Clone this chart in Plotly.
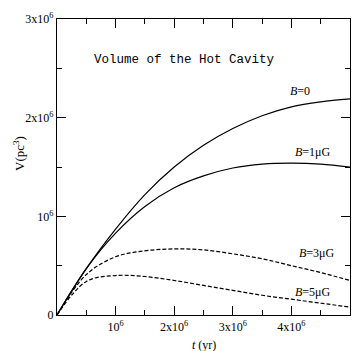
import plotly.graph_objects as go

# time in units of 10^6 yr, volume in units of 10^6 pc^3
t = [0, 0.5, 1.0, 1.5, 2.0, 2.5, 3.0, 3.5, 4.0, 4.5, 5.0]
V_B0 = [0, 0.47, 0.87, 1.22, 1.50, 1.72, 1.89, 2.02, 2.11, 2.16, 2.19]
V_B1 = [0, 0.47, 0.83, 1.10, 1.29, 1.41, 1.49, 1.53, 1.54, 1.53, 1.50]
V_B3 = [0, 0.41, 0.59, 0.65, 0.67, 0.66, 0.62, 0.57, 0.50, 0.43, 0.35]
V_B5 = [0, 0.34, 0.40, 0.39, 0.35, 0.30, 0.25, 0.20, 0.16, 0.12, 0.08]

series = [
    ("<i>B</i>=0", V_B0, "solid"),
    ("<i>B</i>=1μG", V_B1, "solid"),
    ("<i>B</i>=3μG", V_B3, "4px,2px"),
    ("<i>B</i>=5μG", V_B5, "4px,2px"),
]

x_tickvals = [1, 2, 3, 4]
x_ticktext = ["10<sup>6</sup>", "2x10<sup>6</sup>", "3x10<sup>6</sup>", "4x10<sup>6</sup>"]
y_tickvals = [0, 1, 2, 3]
y_ticktext = ["0", "10<sup>6</sup>", "2x10<sup>6</sup>", "3x10<sup>6</sup>"]

scale = 1e6
fig = go.Figure()
for name, v, dash in series:
    fig.add_trace(go.Scatter(
        x=[a * scale for a in t], y=[b * scale for b in v], mode="lines",
        line=dict(color="black", width=1.2, dash=dash, shape="spline", smoothing=1.0),
        name=name, showlegend=False))

serif = "Liberation Serif"
label_pos = [(4.14, 2.27), (4.37, 1.65), (4.44, 0.63), (4.36, 0.23)]
for (name, _, _), (lx, ly) in zip(series, label_pos):
    fig.add_annotation(x=lx * scale, y=ly * scale, text=name, showarrow=False,
                       xanchor="center", yanchor="middle",
                       font=dict(family=serif, size=12, color="black"))

fig.add_annotation(x=0.12, y=0.86, xref="paper", yref="paper",
                   xanchor="left", yanchor="middle",
                   text="Volume of the Hot Cavity", showarrow=False,
                   font=dict(family="Liberation Mono", size=12.5, color="black"))
fig.add_annotation(x=-0.132, y=0.545, xref="paper", yref="paper",
                   xanchor="center", yanchor="middle",
                   text="V(pc<sup>3</sup>)", textangle=-90, showarrow=False,
                   font=dict(family=serif, size=13, color="black"))
fig.add_annotation(x=0.5, y=-0.1, xref="paper", yref="paper",
                   xanchor="center", yanchor="middle",
                   text="<i>t</i> (yr)", showarrow=False,
                   font=dict(family=serif, size=12, color="black"))

axis_common = dict(ticks="inside", ticklen=9, tickwidth=1, tickcolor="black",
                   showline=True, linecolor="black", linewidth=1.3,
                   mirror="ticks", showgrid=False, zeroline=False,
                   minor=dict(dtick=0.5 * scale, ticks="inside", ticklen=5,
                              tickcolor="black"),
                   tickfont=dict(family=serif, size=12, color="black"))
fig.update_xaxes(range=[0, 5 * scale], tickvals=[v * scale for v in x_tickvals],
                 ticktext=x_ticktext, **axis_common)
fig.update_yaxes(range=[0, 3 * scale], tickvals=[v * scale for v in y_tickvals],
                 ticktext=y_ticktext, **axis_common)

fig.update_layout(width=352, height=351, margin=dict(l=57, r=2, t=19, b=36),
                  plot_bgcolor="white", paper_bgcolor="white")
fig.write_html("out.html")
